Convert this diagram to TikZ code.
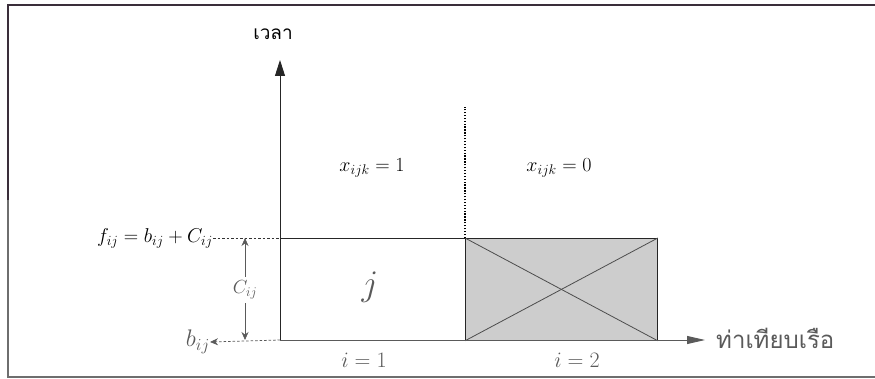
\RequirePackage{fix-cm}
\documentclass[tikz,border=0pt]{standalone}
\usepackage{fontspec}
\usetikzlibrary{arrows.meta}
\newfontfamily\thaifont[Script=Thai]{Loma}
\definecolor{framedark}{HTML}{3A2E3A}
\definecolor{framegray}{HTML}{6E6E6E}
\definecolor{lowgray}{HTML}{5A5A5A}
\definecolor{shade}{HTML}{CDCDCD}
\begin{document}
\begin{tikzpicture}[x=1pt,y=-1pt,
  mlbl/.style={inner sep=0pt, font=\fontsize{20}{24}\selectfont},
  slbl/.style={inner sep=0pt, font=\fontsize{20}{24}\selectfont},
  thlbl/.style={inner sep=0pt, font=\thaifont\fontsize{19}{23}\selectfont},
  axis/.style={line width=0.9pt, black!85},
  boxline/.style={line width=0.8pt, black!85},
  guide/.style={dashed, dash pattern=on 2.5pt off 2pt, line width=0.8pt, black!80},
]
\useasboundingbox (0,0) rectangle (875,379);
% frame
\draw[line width=2.5pt, framedark] (875,5) -- (8,5) -- (8,200);
\draw[line width=2pt, framegray] (8,200) -- (8,377) -- (875,377);

% axes
\coordinate (O) at (280,340);
\coordinate (Ytip) at (280,60);
\coordinate (Xtip) at (705,340);

% boxes
\node[boxline, draw, minimum width=185pt, minimum height=102pt, anchor=north west, inner sep=0pt] (jbox) at (280,238) {};
\node[boxline, draw, fill=shade, minimum width=192pt, minimum height=102pt, anchor=north west, inner sep=0pt] (sbox) at (465,238) {};
\draw[boxline, black!70] (sbox.north west) -- (sbox.south east);
\draw[boxline, black!70] (sbox.north east) -- (sbox.south west);

\draw[axis, -{Triangle[length=16pt,width=10pt]}] (O) -- (Ytip);
\draw[axis, lowgray, -{Triangle[length=18pt,width=8pt]}] (O) -- (Xtip);

% dotted separator
\coordinate (dtop) at (465,107);
\draw[line width=1.3pt, dash pattern=on 1.3pt off 1.6pt, black] (sbox.north west) -- (dtop);

% labels
\node[thlbl] (tlab) at (273,34) {เวลา};
\node[thlbl, anchor=west, lowgray, font=\thaifont\fontsize{24}{28}\selectfont] (xlab) at (716,338) {ท่าเทียบเรือ};
\node[mlbl] (x1) at (372,168) {$x_{ijk}=1$};
\node[mlbl] (x0) at (559,168) {$x_{ijk}=0$};
\node[inner sep=0pt, lowgray, font=\fontsize{36}{40}\selectfont] (jl) at (370,287) {$j$};
\node[inner sep=0pt, lowgray, font=\fontsize{22}{26}\selectfont] (i1) at (364,360) {$i=1$};
\node[inner sep=0pt, lowgray, font=\fontsize{22}{26}\selectfont] (i2) at (577,360) {$i=2$};

% f, b, C
\node[slbl, anchor=east] (flab) at (213,238) {$f_{ij}=b_{ij}+C_{ij}$};
\draw[guide] (flab.east) -- (jbox.north west);
\node[inner sep=0pt, anchor=east, lowgray, font=\fontsize{24}{28}\selectfont] (blab) at (210,342) {$b_{ij}$};
\draw[guide, lowgray, -{Stealth[length=8pt,width=7pt]}] (O) -- (blab.east);
\node[inner sep=4pt, lowgray, font=\fontsize{19}{23}\selectfont] (clab) at (245,290) {$C_{ij}$};
\coordinate (ctop) at (245,238);
\coordinate (cbot) at (245,340);
\draw[line width=0.7pt, lowgray, -{Stealth[length=8pt,width=7pt]}] (clab.north) -- (ctop);
\draw[line width=0.7pt, lowgray, -{Stealth[length=8pt,width=7pt]}] (clab.south) -- (cbot);
\end{tikzpicture}
\end{document}
